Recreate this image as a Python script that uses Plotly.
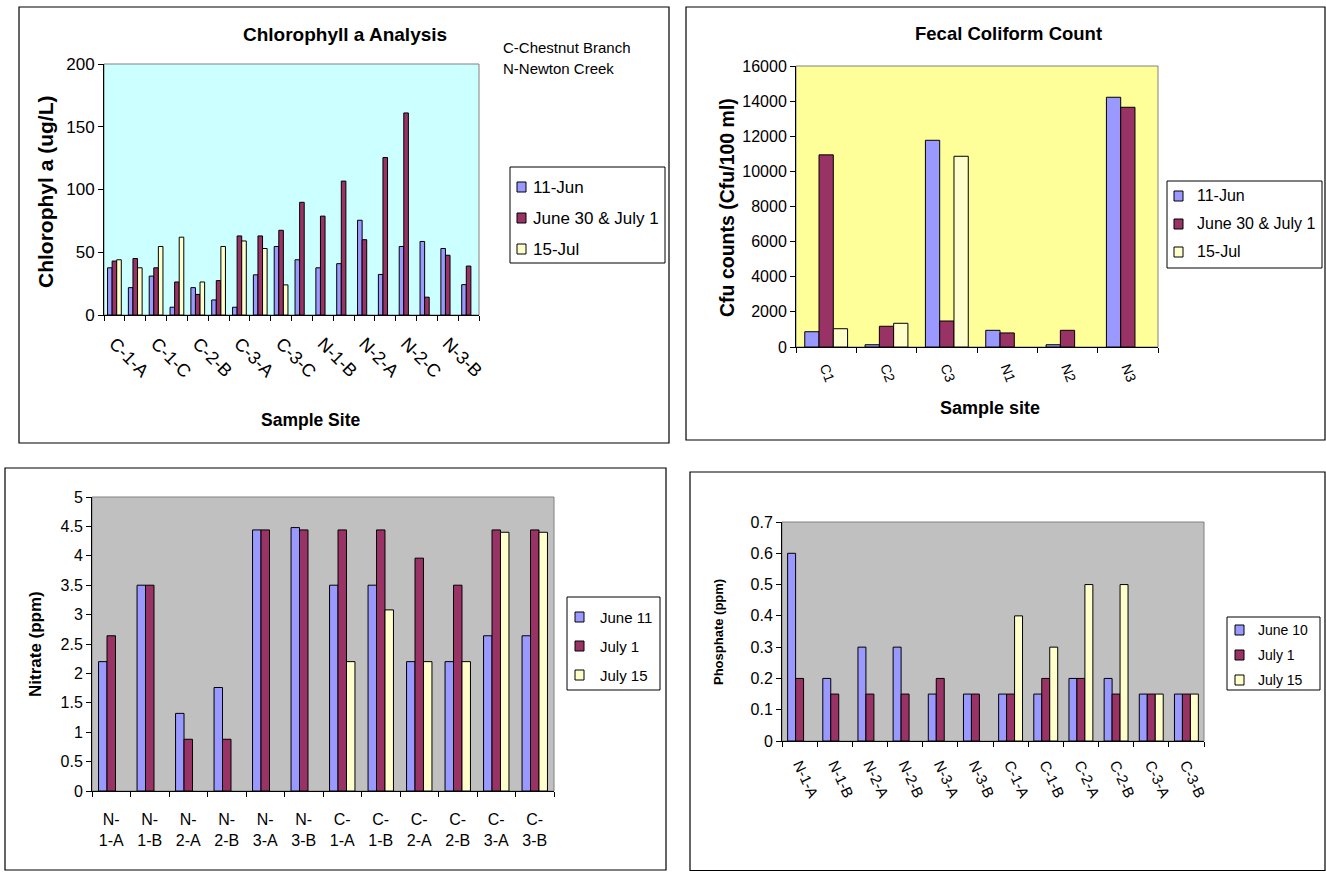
import plotly.graph_objects as go

W, H = 1326, 873

# ---- Chlorophyll a (ug/L) ----
chl_sites = ["C-1-A", "C-1-B", "C-1-C", "C-2-A", "C-2-B", "C-2-C",
             "C-3-A", "C-3-B", "C-3-C", "N-1-A", "N-1-B", "N-1-C",
             "N-2-A", "N-2-B", "N-2-C", "N-3-A", "N-3-B", "N-3-C"]
chl_jun11 = [37.6, 21.8, 31.0, 6.2, 21.8, 12.0, 6.2, 32.0, 54.6,
             44.0, 37.6, 40.9, 75.5, 32.3, 54.6, 58.6, 53.0, 24.2]
chl_jun30_jul1 = [43.0, 45.0, 37.6, 26.3, 16.4, 27.4, 63.0, 63.0, 67.5,
                  89.8, 78.8, 106.7, 60.0, 125.5, 161.0, 14.2, 47.6, 39.0]
chl_jul15 = [44.0, 37.6, 54.6, 62.0, 26.3, 54.6, 59.0, 53.0, 24.0,
             None, None, None, None, None, None, None, None, None]
chl_tick_labels = ["C-1-A", "", "C-1-C", "", "C-2-B", "", "C-3-A", "", "C-3-C",
                   "", "N-1-B", "", "N-2-A", "", "N-2-C", "", "N-3-B", ""]
chl_names = ["11-Jun", "June 30 & July 1", "15-Jul"]

# ---- Fecal coliform (Cfu/100 ml) ----
fec_sites = ["C1", "C2", "C3", "N1", "N2", "N3"]
fec_jun11 = [870, 130, 11770, 950, 130, 14220]
fec_jun30_jul1 = [10940, 1180, 1480, 800, 950, 13650]
fec_jul15 = [1040, 1350, 10860, None, None, None]
fec_names = ["11-Jun", "June 30 & July 1", "15-Jul"]

# ---- Nitrate (ppm) ----
nit_sites = ["N-1-A", "N-1-B", "N-2-A", "N-2-B", "N-3-A", "N-3-B",
             "C-1-A", "C-1-B", "C-2-A", "C-2-B", "C-3-A", "C-3-B"]
nit_jun11 = [2.2, 3.5, 1.32, 1.76, 4.44, 4.48, 3.5, 3.5, 2.2, 2.2, 2.64, 2.64]
nit_jul1 = [2.64, 3.5, 0.88, 0.88, 4.44, 4.44, 4.44, 4.44, 3.96, 3.5, 4.44, 4.44]
nit_jul15 = [None, None, None, None, None, None, 2.2, 3.08, 2.2, 2.2, 4.4, 4.4]
nit_tick_labels = [s.replace("-", "-<br>", 1) for s in nit_sites]
nit_names = ["June 11", "July 1", "July 15"]

# ---- Phosphate (ppm) ----
pho_sites = nit_sites
pho_jun10 = [0.6, 0.2, 0.3, 0.3, 0.15, 0.15, 0.15, 0.15, 0.2, 0.2, 0.15, 0.15]
pho_jul1 = [0.2, 0.15, 0.15, 0.15, 0.2, 0.15, 0.15, 0.2, 0.2, 0.15, 0.15, 0.15]
pho_jul15 = [None, None, None, None, None, None, 0.4, 0.3, 0.5, 0.5, 0.15, 0.15]
pho_names = ["June 10", "July 1", "July 15"]

BLUE, MAROON, CREAM = "#9999FF", "#993366", "#FFFFCC"
COLORS = [BLUE, MAROON, CREAM]
FONT = "Liberation Sans, Arial, sans-serif"


def px(x):
    """pixel column -> paper fraction"""
    return x / W


def py(y):
    """pixel row -> paper fraction"""
    return 1 - y / H


fig = go.Figure()


def add_bars(xa, ya, cats, names, series, frac):
    # clustered bars: each series takes one third of the cluster width
    w = frac / len(series)
    for i, (name, vals, col) in enumerate(zip(names, series, COLORS)):
        fig.add_trace(go.Bar(
            x=cats, y=vals, name=name, xaxis=xa, yaxis=ya,
            width=w, offset=-frac / 2 + i * w,
            marker=dict(color=col, line=dict(color="black", width=1)),
            showlegend=False,
        ))


add_bars("x", "y", chl_sites, chl_names,
         [chl_jun11, chl_jun30_jul1, chl_jul15], 0.66)
add_bars("x2", "y2", fec_sites, fec_names,
         [fec_jun11, fec_jun30_jul1, fec_jul15], 0.71)
add_bars("x3", "y3", nit_sites, nit_names,
         [nit_jun11, nit_jul1, nit_jul15], 0.66)
add_bars("x4", "y4", pho_sites, pho_names,
         [pho_jun10, pho_jul1, pho_jul15], 0.68)


def xaxis(dom, anchor, fsize, angle=0, ticktext=None, cats=None, standoff=2):
    d = dict(domain=dom, anchor=anchor, type="category", tickson="boundaries",
             ticks="outside", ticklen=5, tickcolor="black", showline=True,
             linecolor="black", linewidth=1, showgrid=False, tickangle=angle,
             ticklabelstandoff=standoff, fixedrange=True, automargin=False,
             tickfont=dict(family=FONT, size=fsize, color="black"))
    if ticktext is not None:
        d.update(tickmode="array", tickvals=cats, ticktext=ticktext)
    return d


def yaxis(dom, anchor, rng, dtick, fsize):
    return dict(domain=dom, anchor=anchor, range=rng, dtick=dtick,
                tickformat="d" if dtick >= 1 else None, fixedrange=True,
                automargin=False,
                ticks="outside", ticklen=5, tickcolor="black", showline=True,
                linecolor="black", linewidth=1, showgrid=False, zeroline=False,
                tickfont=dict(family=FONT, size=fsize, color="black"))


# plot-area boxes in pixels (left, top, right, bottom)
P1 = (104, 64, 479, 315)
P2 = (796, 66, 1158, 347)
P3 = (92, 497, 554, 791)
P4 = (782, 522, 1204, 741)


def xd(p):
    return [px(p[0]), px(p[2])]


def yd(p):
    return [py(p[3]), py(p[1])]


fig.update_layout(
    width=W, height=H, margin=dict(l=0, r=0, t=0, b=0, autoexpand=False),
    paper_bgcolor="white", plot_bgcolor="rgba(0,0,0,0)",
    font=dict(family=FONT, color="black"),
    barmode="overlay", showlegend=False, dragmode=False,
    xaxis=xaxis(xd(P1), "y", 18, 45, chl_tick_labels, chl_sites, standoff=10),
    yaxis=yaxis(yd(P1), "x", [0, 200], 50, 17),
    xaxis2=xaxis(xd(P2), "y2", 14, 70, standoff=6),
    yaxis2=yaxis(yd(P2), "x2", [0, 16000], 2000, 16),
    xaxis3=xaxis(xd(P3), "y3", 16, 0, nit_tick_labels, nit_sites, standoff=14),
    yaxis3=yaxis(yd(P3), "x3", [0, 5], 0.5, 16),
    xaxis4=xaxis(xd(P4), "y4", 15, 65, standoff=8),
    yaxis4=yaxis(yd(P4), "x4", [0, 0.7], 0.1, 16),
)

# panel frames and plot-area fills (kept inside the page)
shapes = []
for (x0, y0, x1, y1) in [(19, 7, 669, 443), (686, 7, 1325, 440),
                         (5, 468, 666, 870), (690, 472, 1325, 870.5)]:
    shapes.append(dict(type="rect", xref="paper", yref="paper",
                       x0=px(x0), x1=px(x1), y0=py(y1), y1=py(y0),
                       line=dict(color="black", width=1.2), layer="below"))
for ax, fill in [("", "#CCFFFF"), ("2", "#FFFF99"), ("3", "#C0C0C0"), ("4", "#C0C0C0")]:
    shapes.append(dict(type="rect", xref=f"x{ax} domain", yref=f"y{ax} domain",
                       x0=0, x1=1, y0=0, y1=1, fillcolor=fill,
                       line=dict(color="#808080", width=1), layer="below"))


def note(text, x, y, size, bold=False, angle=0, xanchor="center"):
    fig.add_annotation(
        text=f"<b>{text}</b>" if bold else text, x=px(x), y=py(y),
        xref="paper", yref="paper", showarrow=False, textangle=angle,
        xanchor=xanchor, yanchor="middle",
        font=dict(family=FONT, size=size, color="black"))


def legend_box(box, names, first_y, step, key_x, text_x, size):
    x0, y0, x1, y1 = box
    shapes.append(dict(type="rect", xref="paper", yref="paper",
                       x0=px(x0), x1=px(x1), y0=py(y1), y1=py(y0),
                       fillcolor="white", line=dict(color="black", width=1)))
    for i, (name, col) in enumerate(zip(names, COLORS)):
        yc = first_y + i * step
        shapes.append(dict(type="rect", xref="paper", yref="paper",
                           x0=px(key_x), x1=px(key_x + 9),
                           y0=py(yc + 5), y1=py(yc - 5),
                           fillcolor=col, line=dict(color="black", width=1)))
        note(name, text_x, yc, size, xanchor="left")


legend_box((510, 167, 665, 263), chl_names, 187, 31, 517, 531, 17)
legend_box((1167, 181, 1322, 268), fec_names, 196, 28, 1174, 1195, 16)
legend_box((567, 597, 660, 690), nit_names, 617, 29, 575, 598, 15)
legend_box((1227, 617, 1320, 690), pho_names, 630, 25, 1235, 1256, 14)

fig.update_layout(shapes=shapes)

note("Chlorophyll a Analysis", 345, 35, 19, bold=True)
note("C-Chestnut Branch", 501, 47, 15, xanchor="left")
note("N-Newton Creek", 501, 69, 15, xanchor="left")
note("Chlorophyl a (ug/L)", 45, 192, 21, bold=True, angle=-90)
note("Sample Site", 310, 420, 17.5, bold=True)

note("Fecal Coliform Count", 1008, 34, 18.5, bold=True)
note("Cfu counts (Cfu/100 ml)", 727, 208, 19.5, bold=True, angle=-90)
note("Sample site", 990, 408, 18, bold=True)

note("Nitrate (ppm)", 35, 644, 17, bold=True, angle=-90)
note("Phosphate (ppm)", 718, 632, 13, bold=True, angle=-90)

fig.write_html("out.html", config={"staticPlot": True})
